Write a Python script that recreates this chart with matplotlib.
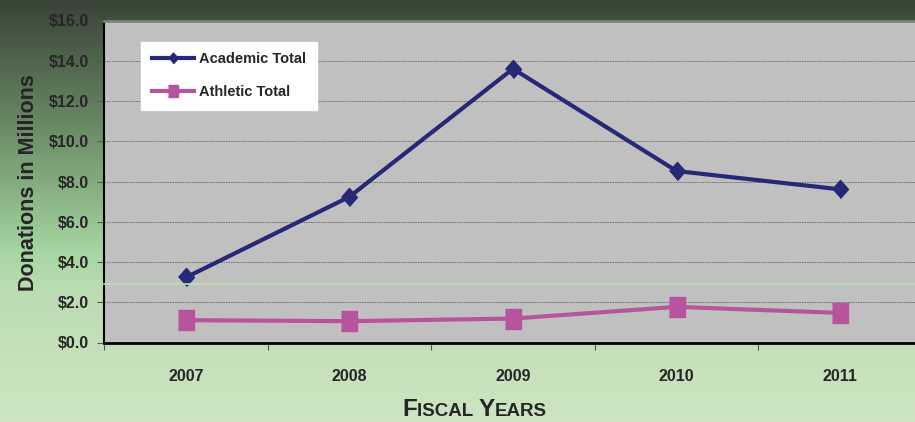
import numpy as np
import matplotlib.pyplot as plt
from matplotlib.colors import LinearSegmentedColormap, to_rgb

years = ['2007', '2008', '2009', '2010', '2011']
academic = [3.23, 7.24, 13.6, 8.52, 7.61]
athletic = [1.11, 1.06, 1.19, 1.77, 1.47]
yticks = [0, 2, 4, 6, 8, 10, 12, 14, 16]

plt.rcParams['font.family'] = ['Liberation Sans', 'DejaVu Sans']
plt.rcParams['font.weight'] = 'bold'
txt = '#262626'

fig = plt.figure(figsize=(9.15, 4.22), dpi=100)

# background gradient
bg = fig.add_axes([0, 0, 1, 1], zorder=-10)
stops = [(0.0, '#384436'), (0.30, '#6a8a66'), (0.60, '#a6d6a2'), (0.69, '#bcdcb4'), (1.0, '#cde5c2')]
cm = LinearSegmentedColormap.from_list('bg', [(p, to_rgb(c)) for p, c in stops])
grad = np.linspace(0, 1, 422).reshape(-1, 1)
bg.imshow(grad, aspect='auto', cmap=cm, extent=[0, 1, 0, 1], origin='upper')
bg.axis('off')

ax = fig.add_axes([104/915, 1 - 342.5/422, 818/915, 322/422])
ax.set_facecolor('#c0c0c0')
x = np.arange(len(years)) + 0.5

diamond = [(0, -0.5), (0.44, 0), (0, 0.5), (-0.44, 0)]
rect = [(-0.39, -0.5), (0.39, -0.5), (0.39, 0.5), (-0.39, 0.5)]
ax.plot(x, academic, color='#262878', lw=3, marker=diamond, ms=13,
        label='Academic Total', zorder=3)
ax.plot(x, athletic, color='#b8549e', lw=3, marker=rect, ms=15,
        label='Athletic Total', zorder=3)

ax.set_xlim(0, 5)
ax.set_ylim(0, 16)
ax.set_yticks(yticks)
ax.set_yticklabels(['$%.1f' % v for v in yticks], fontsize=11.5, color=txt)
ax.set_xticks(np.arange(6))
ax.set_xticklabels([])
ax.set_xticks(x, minor=True)
ax.set_xticklabels(years, minor=True, fontsize=11.5, color=txt)
ax.tick_params(axis='x', which='minor', length=0, pad=19)
ax.tick_params(axis='x', which='major', length=5, direction='out', color='#555555')
ax.tick_params(axis='y', length=5, direction='out', color='#555555', pad=6)
ax.yaxis.grid(True, color='#707070', linestyle=(0, (1.5, 1)), lw=0.7)
ax.set_axisbelow(True)
ax.spines['top'].set_color('#808080')
ax.spines['top'].set_linewidth(2)
ax.spines['right'].set_visible(False)
ax.spines['left'].set_linewidth(1.5)
ax.spines['bottom'].set_linewidth(2)

ax.set_ylabel('Donations in Millions', fontsize=15.5, fontweight='bold', color=txt)
ax.yaxis.set_label_coords(-0.079, 0.497)

leg = ax.legend(loc='upper left', bbox_to_anchor=(37/818, 1 - 21/322), frameon=True,
                fancybox=False, fontsize=10.5, handlelength=2.9, borderpad=0.75,
                labelspacing=1.3, handletextpad=0.3, borderaxespad=0, markerscale=0.6)
leg.get_frame().set_facecolor('white')
leg.get_frame().set_edgecolor('white')
leg.get_frame().set_alpha(1)
for t in leg.get_texts():
    t.set_color(txt)

# stray light green line
fig.add_artist(plt.Line2D([104/915, 1], [1 - 284/422] * 2, color='#b4e2ac', lw=1.2, zorder=5))

# small-caps axis title
parts = [('F', 17.5), ('ISCAL ', 13.5), ('Y', 17.5), ('EARS', 13.5)]
r = fig.canvas.get_renderer()
widths = []
objs = []
for s, fs in parts:
    t = fig.text(0, 1 - 416/422, s, fontsize=fs, color=txt, fontweight='bold', va='baseline')
    widths.append(t.get_window_extent(r).width)
    objs.append(t)
xpos = 474.5 - sum(widths) / 2
for t, w in zip(objs, widths):
    t.set_x(xpos / 915)
    xpos += w

fig.savefig('out.png', dpi=100)
